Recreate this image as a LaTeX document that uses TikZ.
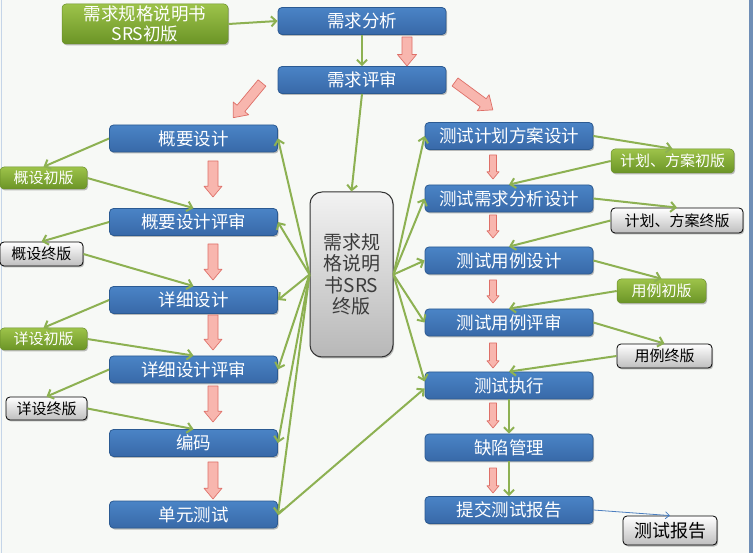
\documentclass[tikz,border=0pt]{standalone}
\usepackage{fontspec}
\setmainfont{Noto Sans CJK SC}
\usetikzlibrary{arrows.meta,shadows,calc}
\definecolor{bgc}{HTML}{F7F9F6}
\definecolor{blueT}{HTML}{4A84C6}
\definecolor{blueB}{HTML}{3869A8}
\definecolor{blueE}{HTML}{2B5A92}
\definecolor{greenT}{HTML}{9DC34A}
\definecolor{greenB}{HTML}{6B9426}
\definecolor{greenE}{HTML}{6A8F2A}
\definecolor{lineG}{HTML}{8DB152}
\definecolor{pinkF}{HTML}{F8B6AE}
\definecolor{pinkD}{HTML}{DE7068}
\definecolor{grayB}{HTML}{BEBEBE}
\definecolor{srsText}{HTML}{3C3C3C}
\definecolor{thinBlue}{HTML}{4A7EBF}
\definecolor{barBlue}{HTML}{6F8EB6}
\definecolor{edgeL}{HTML}{C5D5E8}
\newcommand\pinkarr[5]{%
  \begin{scope}[shift={#1}, rotate=#2]
    \path[pinkstyle] (0,#4) -- ({#3-1.2*#5},#4) -- ({#3-1.2*#5},#5) -- (#3,0)
      -- ({#3-1.2*#5},-#5) -- ({#3-1.2*#5},-#4) -- (0,-#4) -- cycle;
  \end{scope}}
\begin{document}
\begin{tikzpicture}[x=1pt,y=-1pt,
  shadowed/.style={drop shadow={shadow xshift=1.2pt, shadow yshift=-1.5pt, opacity=0.25, fill=black}},
  bluebox/.style={shadowed, draw=blueE, line width=0.8pt, rounded corners=4pt,
    top color=blueT, bottom color=blueB, text=white, minimum width=168pt,
    minimum height=27pt, inner sep=0pt, font=\fontsize{17.5}{20}\selectfont},
  greenbox/.style={shadowed, draw=greenE, line width=0.5pt, rounded corners=4pt,
    top color=greenT, bottom color=greenB, text=white, inner sep=0pt,
    font=\fontsize{15}{18}\selectfont},
  graybox/.style={shadowed, draw=black, line width=0.8pt, rounded corners=4pt,
    top color=white, bottom color=grayB, text=black, inner sep=0pt,
    font=\fontsize{15}{18}\selectfont},
  garr/.style={draw=lineG, line width=2pt, -{Straight Barb[length=5pt,width=10pt]}},
  pinkstyle/.style={fill=pinkF, draw=pinkD, line width=0.7pt, line join=round}
]
\useasboundingbox (0,0) rectangle (753,553);
\fill[bgc] (0,0) rectangle (753,553);
\fill[barBlue] (749,0) rectangle (753,553);
\fill[edgeL] (0.5,0) rectangle (1.6,553);

% top
\node[greenbox, minimum width=166pt, minimum height=40pt, align=center,
  font=\fontsize{17.5}{20}\selectfont] (srs0) at (145,24) {需求规格说明书\\SRS初版};
\node[bluebox] (xqfx) at (362,21) {需求分析};
\node[bluebox] (xqps) at (362,80) {需求评审};

% center
\node[shadowed, draw=black!80, line width=1pt, rounded corners=12pt, top color=white!95!black,
  bottom color=black!28, minimum width=83pt, minimum height=165pt, inner sep=0pt,
  align=center, text=srsText, font=\fontsize{19}{21.5}\selectfont] (srs) at (351.5,274.5)
  {需求规\\格说明\\书SRS\\终版};

% left column
\node[bluebox] (gysj) at (193.5,138.5) {概要设计};
\node[bluebox] (gyps) at (193.5,222) {概要设计评审};
\node[bluebox] (xxsj) at (193.5,300) {详细设计};
\node[bluebox] (xxps) at (193.5,369.5) {详细设计评审};
\node[bluebox] (bm) at (193.5,443) {编码};
\node[bluebox] (dycs) at (193.5,514.5) {单元测试};

\node[greenbox, minimum width=87pt, minimum height=22pt] (g1) at (43.5,178) {概设初版};
\node[graybox, minimum width=83pt, minimum height=24pt] (g2) at (41.5,254) {概设终版};
\node[greenbox, minimum width=87pt, minimum height=22pt] (x1) at (43.5,339) {详设初版};
\node[graybox, minimum width=81pt, minimum height=23pt] (x2) at (46.5,408.5) {详设终版};

% right column
\node[bluebox] (jh) at (509,136) {测试计划方案设计};
\node[bluebox] (xqsj) at (509,198.5) {测试需求分析设计};
\node[bluebox] (ylsj) at (509,260.5) {测试用例设计};
\node[bluebox] (ylps) at (509,322.5) {测试用例评审};
\node[bluebox] (zx) at (509,385.5) {测试执行};
\node[bluebox] (qx) at (509,447.5) {缺陷管理};
\node[bluebox] (bg) at (509,510) {提交测试报告};

\node[greenbox, minimum width=123pt, minimum height=24pt] (j1) at (672.5,161) {计划、方案初版};
\node[graybox, minimum width=132pt, minimum height=25pt] (j2) at (677,220.5) {计划、方案终版};
\node[greenbox, minimum width=89pt, minimum height=24pt] (y1) at (661.5,291) {用例初版};
\node[graybox, minimum width=95pt, minimum height=24pt] (y2) at (664.5,356) {用例终版};
\node[graybox, minimum width=94pt, minimum height=29pt, font=\fontsize{18}{21}\selectfont] (rep) at (670,530.5) {测试报告};

% pink block arrows
\pinkarr{(407,37)}{-90}{29}{5}{9.5}
\pinkarr{(262,83)}{-129.6}{45}{5}{10}
\pinkarr{(455,82)}{-36.4}{47}{5}{10}
\pinkarr{(213,161)}{-90}{36}{5}{9}
\pinkarr{(213,244)}{-90}{36}{5}{9}
\pinkarr{(213,315)}{-90}{35}{5}{9}
\pinkarr{(213,386)}{-90}{36}{5}{9}
\pinkarr{(213,462)}{-90}{37}{5}{9}
\pinkarr{(493,155)}{-90}{24}{3.5}{6}
\pinkarr{(493,215)}{-90}{23}{3.5}{6}
\pinkarr{(493,280)}{-90}{23}{3.5}{6}
\pinkarr{(493,343)}{-90}{25}{3.5}{6}
\pinkarr{(493,403)}{-90}{25}{3.5}{6}
\pinkarr{(493,468)}{-90}{25}{3.5}{6}

% green connectors
\draw[garr] (srs0.east) -- (xqfx.west);
\draw[garr] (xqfx.south) -- (xqps.north);
\draw[garr] (xqps.south) -- (srs.north);

\draw[garr] (gysj.west) -- (g1.north);
\draw[garr] (g1.east) -- (gyps.north);
\draw[garr] (gyps.west) -- (g2.north);
\draw[garr] (g2.east) -- (xxsj.north);
\draw[garr] (xxsj.west) -- (x1.north);
\draw[garr] (x1.east) -- (xxps.north);
\draw[garr] (xxps.west) -- (x2.north);
\draw[garr] (x2.east) -- (bm.north);

\foreach \t in {gysj,gyps,xxsj,xxps,bm,dycs}
  \draw[garr] (srs.west) -- (\t.east);
\foreach \t in {jh,xqsj,ylsj,ylps}
  \draw[garr] (srs.east) -- (\t.west);
\draw[garr] (srs.east) -- ($(zx.west)+(0,-4)$);
\draw[garr] (dycs.east) -- ($(zx.west)+(0,3)$);

\draw[garr] (jh.east) -- (j1.north);
\draw[garr] (j1.west) -- (xqsj.north);
\draw[garr] (xqsj.east) -- (j2.north);
\draw[garr] (j2.west) -- (ylsj.north);
\draw[garr] (ylsj.east) -- (y1.north);
\draw[garr] (y1.west) -- (ylps.north);
\draw[garr] (ylps.east) -- (y2.north);
\draw[garr] (y2.west) -- (zx.north);
\draw[garr] (zx.south) -- (qx.north);
\draw[garr] (qx.south) -- (bg.north);

\draw[draw=thinBlue, line width=0.8pt, -{Straight Barb[length=4pt,width=7pt]}] (bg.east) -- (rep.north);
\end{tikzpicture}
\end{document}
